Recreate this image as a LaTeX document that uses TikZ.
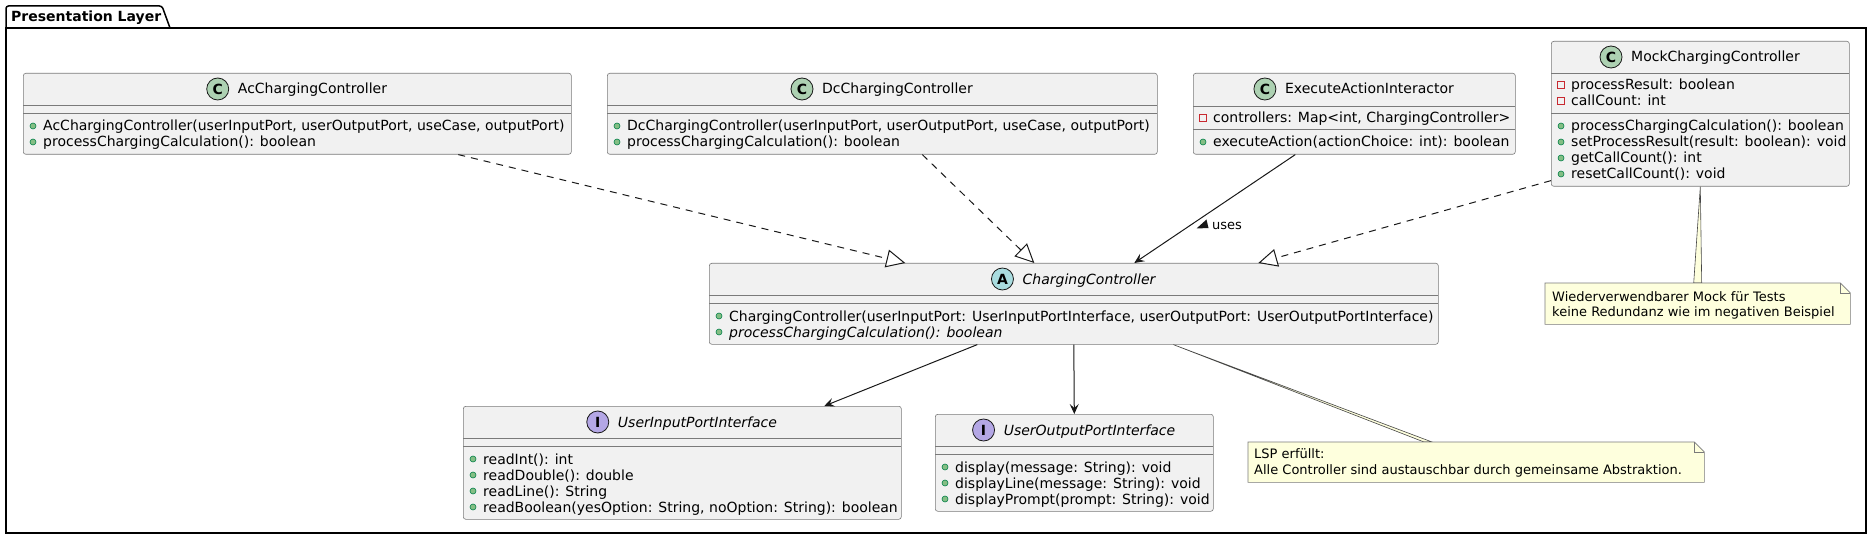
\documentclass[tikz,border=0pt]{standalone}
\usepackage{fontspec}
\setmainfont{DejaVu Sans}
\usetikzlibrary{arrows.meta, calc, positioning}
\definecolor{umlline}{HTML}{181818}
\definecolor{umlborder}{HTML}{7A7A7A}
\definecolor{umlfill}{HTML}{F1F1F1}
\definecolor{iconc}{HTML}{ADD1B2}
\definecolor{icona}{HTML}{A9DCDF}
\definecolor{iconi}{HTML}{B4A7E5}
\definecolor{pubfill}{HTML}{84BE84}
\definecolor{publine}{HTML}{038048}
\definecolor{privline}{HTML}{C82930}
\definecolor{notefill}{HTML}{FEFFDD}
\tikzstyle{classbox} = [rectangle, rounded corners=2.5pt, draw=umlborder, line width=0.6pt, fill=umlfill, inner sep=0pt, anchor=north west]
\tikzstyle{compart} = [draw=umlborder, line width=0.6pt]
\tikzstyle{cname} = [inner sep=0pt, anchor=base, font=\fontsize{14}{16}\selectfont]
\tikzstyle{iname} = [cname, font=\fontsize{14}{16}\selectfont\itshape]
\tikzstyle{icon} = [circle, draw=umlline, line width=0.8pt, minimum size=22pt, inner sep=0pt, font=\fontsize{14}{14}\selectfont\bfseries]
\tikzstyle{member} = [inner sep=0pt, anchor=base west, font=\fontsize{14}{16}\selectfont]
\tikzstyle{pub} = [circle, draw=publine, fill=pubfill, line width=0.6pt, minimum size=6pt, inner sep=0pt]
\tikzstyle{priv} = [rectangle, draw=privline, line width=0.8pt, minimum size=7pt, inner sep=0pt]
\tikzstyle{note} = [rectangle, inner sep=0pt, anchor=north west]
\tikzstyle{notetext} = [inner sep=0pt, anchor=base west, font=\fontsize{13}{15}\selectfont]
\tikzstyle{notebody} = [draw=umlborder, line width=0.6pt, fill=notefill]
\tikzstyle{notelink} = [draw=umlline!80, line width=0.6pt, fill=notefill]
\tikzstyle{arrow} = [draw=umlline, line width=1pt, -{Stealth[length=10pt, width=9pt, inset=4pt]}]
\tikzstyle{realize} = [draw=umlline, line width=1pt, dash pattern=on 7pt off 6pt, -{Triangle[open, length=19pt, width=18pt, fill=white]}]
\tikzstyle{frame} = [draw=black, line width=1.5pt]
\begin{document}
\begin{tikzpicture}[x=1pt, y=-1pt]
\useasboundingbox (0,0) rectangle (1872,540);
% package
\draw[frame] (6,28) rectangle (1866,533);
\draw[frame, rounded corners=2.5pt] (6,28) |- (162,6) -- (170,28);
\node[anchor=base west, inner sep=0pt, font=\fontsize{14}{16}\selectfont\bfseries] (pkg) at (11,22) {Presentation Layer};

% AcChargingController
\node[classbox, minimum width=548pt, minimum height=81pt] (ac) at (23,73) {};
\draw[compart] (23,105) -- (571,105) (23,113) -- (571,113);
\node[cname] (acname) at (312.5,94) {AcChargingController};
\node[icon, fill=iconc] (acicon) at ($(acname.base west)+(-20,-5)$) {C};
\node[pub] (acp1) at (33,126) {};
\node[member] (acm1) at (43,131) {AcChargingController(userInputPort, userOutputPort, useCase, outputPort)};
\node[pub] (acp2) at (33,142) {};
\node[member] (acm2) at (43,147) {processChargingCalculation(): boolean};

% DcChargingController
\node[classbox, minimum width=550pt, minimum height=81pt] (dc) at (607,73) {};
\draw[compart] (607,105) -- (1157,105) (607,113) -- (1157,113);
\node[cname] (dcname) at (897.5,94) {DcChargingController};
\node[icon, fill=iconc] (dcicon) at ($(dcname.base west)+(-20,-5)$) {C};
\node[pub] (dcp1) at (617,126) {};
\node[member] (dcm1) at (627,131) {DcChargingController(userInputPort, userOutputPort, useCase, outputPort)};
\node[pub] (dcp2) at (617,142) {};
\node[member] (dcm2) at (627,147) {processChargingCalculation(): boolean};

% ExecuteActionInteractor
\node[classbox, minimum width=322pt, minimum height=81pt] (exec) at (1193,73) {};
\draw[compart] (1193,106) -- (1515,106) (1193,129) -- (1515,129);
\node[cname] (execname) at (1369.5,94) {ExecuteActionInteractor};
\node[icon, fill=iconc] (execicon) at ($(execname.base west)+(-20,-5)$) {C};
\node[priv] (execa1) at (1203,118) {};
\node[member] (execf1) at (1213,123) {controllers: Map<int, ChargingController>};
\node[pub] (execp1) at (1203,142) {};
\node[member] (execm1) at (1213,147) {executeAction(actionChoice: int): boolean};

% MockChargingController
\node[classbox, minimum width=298pt, minimum height=145pt] (mock) at (1551,41) {};
\draw[compart] (1551,73) -- (1849,73) (1551,113) -- (1849,113);
\node[cname] (mockname) at (1715.5,62) {MockChargingController};
\node[icon, fill=iconc] (mockicon) at ($(mockname.base west)+(-20,-5)$) {C};
\node[priv] (mocka1) at (1561,85) {};
\node[member] (mockf1) at (1571,90) {processResult: boolean};
\node[priv] (mocka2) at (1561,101) {};
\node[member] (mockf2) at (1571,106) {callCount: int};
\node[pub] (mockp1) at (1561,126) {};
\node[member] (mockm1) at (1571,131) {processChargingCalculation(): boolean};
\node[pub] (mockp2) at (1561,142) {};
\node[member] (mockm2) at (1571,147) {setProcessResult(result: boolean): void};
\node[pub] (mockp3) at (1561,158) {};
\node[member] (mockm3) at (1571,163) {getCallCount(): int};
\node[pub] (mockp4) at (1561,174) {};
\node[member] (mockm4) at (1571,179) {resetCallCount(): void};

% ChargingController
\node[classbox, minimum width=729pt, minimum height=81pt] (charging) at (709,263) {};
\draw[compart] (709,295) -- (1438,295) (709,303) -- (1438,303);
\node[iname] (chargingname) at (1089,284) {ChargingController};
\node[icon, fill=icona] (chargingicon) at ($(chargingname.base west)+(-20,-5)$) {A};
\node[pub] (chargingp1) at (719,316) {};
\node[member] (chargingm1) at (729,321) {ChargingController(userInputPort: UserInputPortInterface, userOutputPort: UserOutputPortInterface)};
\node[pub] (chargingp2) at (719,332) {};
\node[member, font=\fontsize{14}{16}\selectfont\itshape] (chargingm2) at (729,337) {processChargingCalculation(): boolean};

% UserInputPortInterface
\node[classbox, minimum width=438pt, minimum height=113pt] (userin) at (463,406) {};
\draw[compart] (463,438) -- (901,438) (463,446) -- (901,446);
\node[iname] (userinname) at (697.5,427) {UserInputPortInterface};
\node[icon, fill=iconi] (userinicon) at ($(userinname.base west)+(-20,-5)$) {I};
\node[pub] (userinp1) at (473,459) {};
\node[member] (userinm1) at (483,464) {readInt(): int};
\node[pub] (userinp2) at (473,475) {};
\node[member] (userinm2) at (483,480) {readDouble(): double};
\node[pub] (userinp3) at (473,491) {};
\node[member] (userinm3) at (483,496) {readLine(): String};
\node[pub] (userinp4) at (473,507) {};
\node[member] (userinm4) at (483,512) {readBoolean(yesOption: String, noOption: String): boolean};

% UserOutputPortInterface
\node[classbox, minimum width=278pt, minimum height=97pt] (userout) at (935,414) {};
\draw[compart] (935,446) -- (1213,446) (935,454) -- (1213,454);
\node[iname] (useroutname) at (1089.5,435) {UserOutputPortInterface};
\node[icon, fill=iconi] (useroutalticon) at ($(useroutname.base west)+(-20,-5)$) {I};
\node[pub] (useroutp1) at (945,467) {};
\node[member] (useroutm1) at (955,472) {display(message: String): void};
\node[pub] (useroutp2) at (945,483) {};
\node[member] (useroutm2) at (955,488) {displayLine(message: String): void};
\node[pub] (useroutp3) at (945,499) {};
\node[member] (useroutm3) at (955,504) {displayPrompt(prompt: String): void};

% notes
\node[note, minimum width=305pt, minimum height=41pt] (notemock) at (1545,283) {};
\node[note, minimum width=456pt, minimum height=40pt] (notelsp) at (1248,442) {};
\draw[notelink] (mock.south) -- ($(notemock.north)+(4,0)$) -- ($(notemock.north)+(-4,0)$) -- cycle;
\draw[notelink] ($(charging.south)+(99.5,0)$) -- ($(notelsp.north west)+(184,0)$) -- ($(notelsp.north west)+(176,0)$) -- cycle;
\draw[notebody] (notemock.north west) -- ($(notemock.north east)+(-10,0)$) -- ($(notemock.north east)+(0,10)$) -- (notemock.south east) -- (notemock.south west) -- cycle;
\draw[compart] ($(notemock.north east)+(-10,0)$) -- ++(0,10) -- ++(10,0);
\draw[notebody] (notelsp.north west) -- ($(notelsp.north east)+(-10,0)$) -- ($(notelsp.north east)+(0,10)$) -- (notelsp.south east) -- (notelsp.south west) -- cycle;
\draw[compart] ($(notelsp.north east)+(-10,0)$) -- ++(0,10) -- ++(10,0);
\node[notetext] (notemock1) at (1552,301.5) {Wiederverwendbarer Mock für Tests};
\node[notetext] (notemock2) at (1552,316.5) {keine Redundanz wie im negativen Beispiel};
\node[notetext] (notelsp1) at (1254,458.5) {LSP erfüllt:};
\node[notetext] (notelsp2) at (1254,474.5) {Alle Controller sind austauschbar durch gemeinsame Abstraktion.};

% relations
\draw[realize] ($(ac.south)+(161,0)$) -- ($(charging.north)+(-168.5,0)$);
\draw[realize] ($(dc.south)+(40,0)$) -- ($(charging.north)+(-39.5,0)$);
\draw[arrow] ($(exec.south)+(-59,0)$) -- ($(charging.north)+(60.5,0)$);
\draw[realize] ($(mock.south west)+(0,-6)$) -- ($(charging.north)+(184.5,0)$);
\draw[arrow] ($(charging.south)+(-96.5,0)$) -- ($(userin.north)+(142,0)$);
\draw[arrow] (charging.south) -- (userout.north);
\fill[umlline] (1196.5,228.5) -- (1206.5,219.5) -- (1208.5,228) -- cycle;
\node[anchor=base west, inner sep=0pt, font=\fontsize{13}{15}\selectfont] (useslabel) at (1212,229.5) {uses};
\end{tikzpicture}
\end{document}
